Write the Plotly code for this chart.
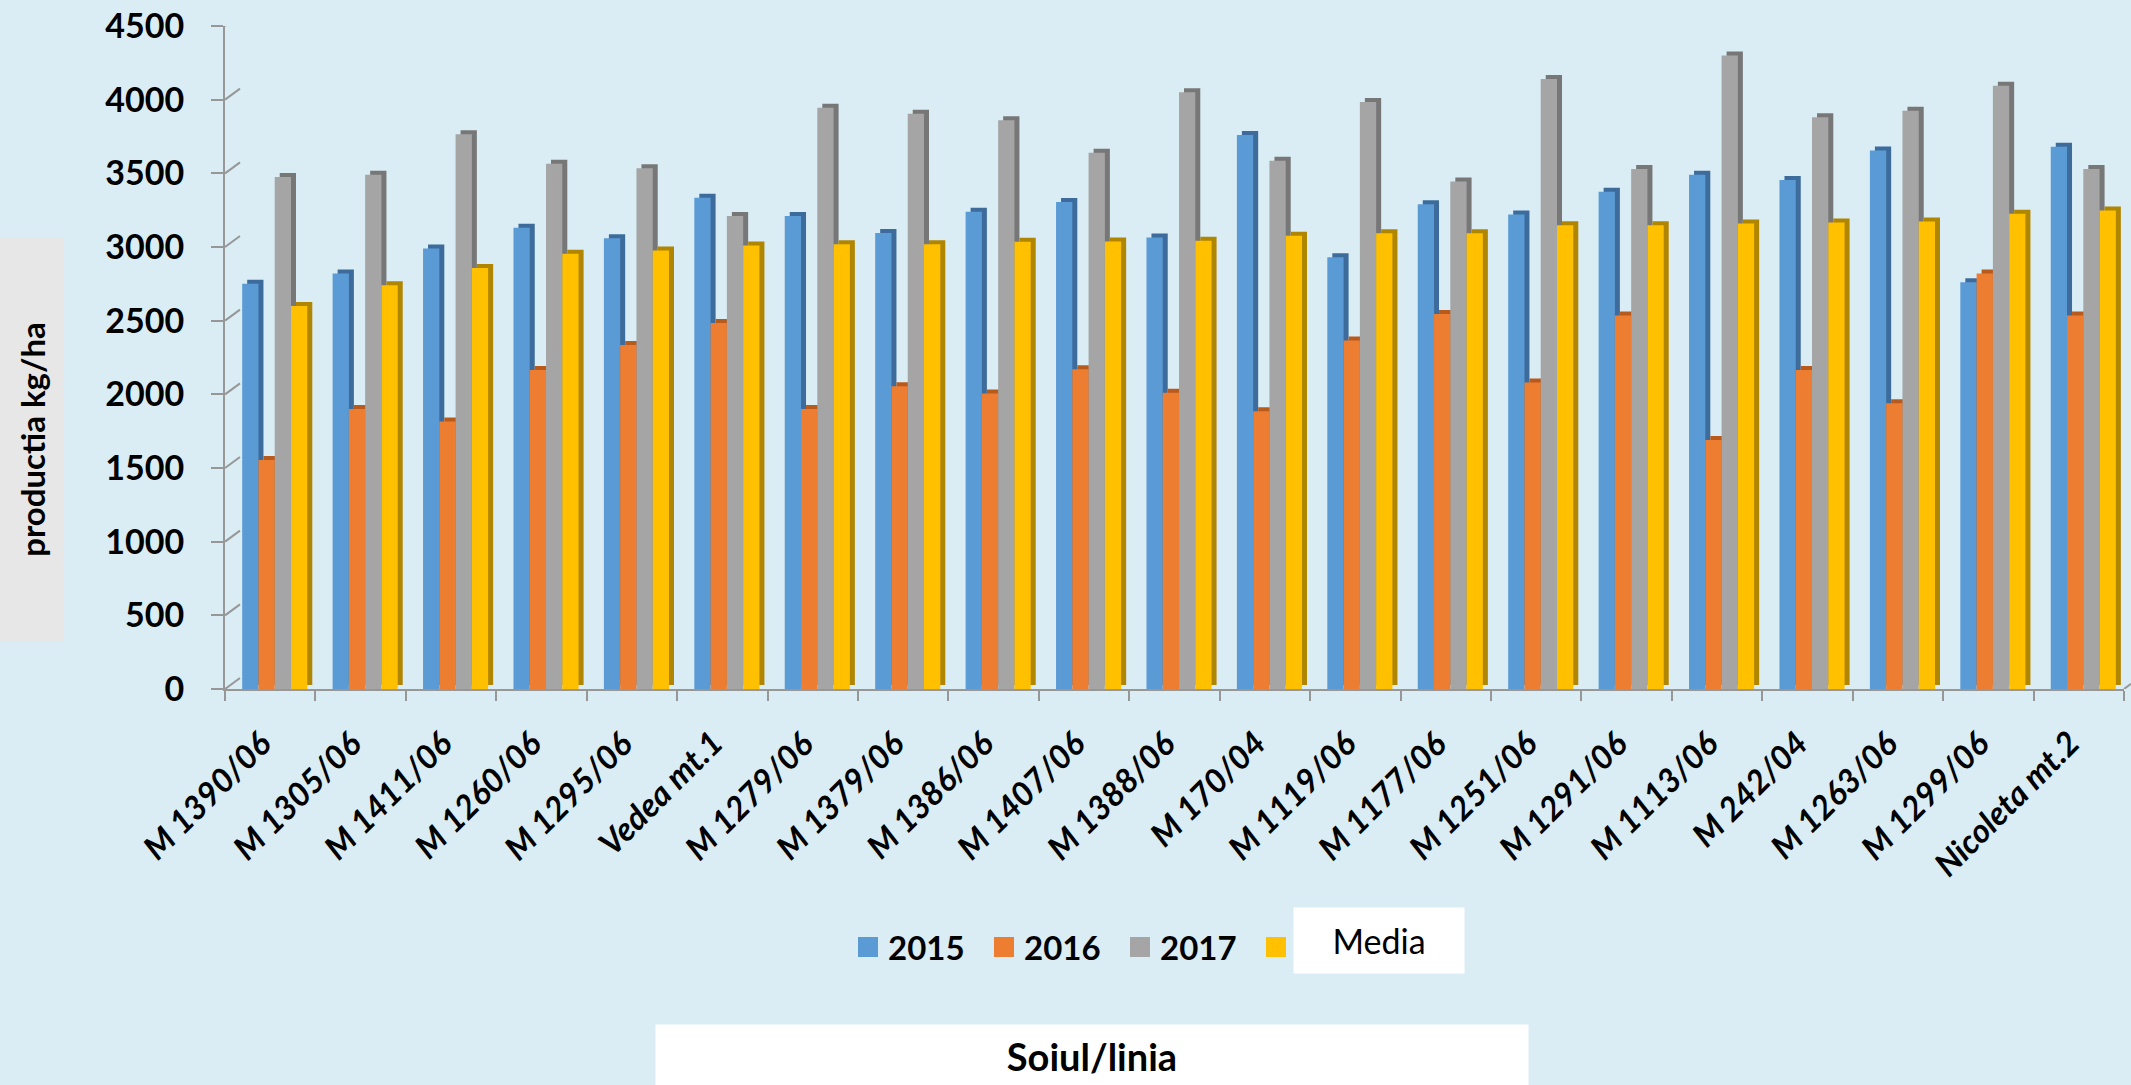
import plotly.graph_objects as go

# ---- data ----
categories = ["M 1390/06", "M 1305/06", "M 1411/06", "M 1260/06", "M 1295/06",
              "Vedea mt.1", "M 1279/06", "M 1379/06", "M 1386/06", "M 1407/06",
              "M 1388/06", "M 170/04", "M 1119/06", "M 1177/06", "M 1251/06",
              "M 1291/06", "M 1113/06", "M 242/04", "M 1263/06", "M 1299/06",
              "Nicoleta mt.2"]
v2015 = [2750, 2820, 2990, 3130, 3060, 3335, 3210, 3095, 3240, 3305, 3065,
         3760, 2930, 3290, 3220, 3375, 3490, 3455, 3655, 2760, 3680]
v2016 = [1555, 1900, 1815, 2165, 2335, 2485, 1900, 2055, 2005, 2170, 2010,
         1885, 2365, 2545, 2080, 2535, 1690, 2165, 1940, 2820, 2535]
v2017 = [3475, 3490, 3765, 3565, 3535, 3210, 3945, 3905, 3860, 3640, 4050,
         3585, 3985, 3445, 4140, 3530, 4300, 3880, 3925, 4095, 3530]
media = [2600, 2740, 2857, 2955, 2977, 3010, 3018, 3018, 3035, 3038, 3042,
         3077, 3093, 3093, 3147, 3147, 3160, 3167, 3173, 3225, 3248]
series_names = ["2015", "2016", "2017", "Media"]
y_ticks = [0, 500, 1000, 1500, 2000, 2500, 3000, 3500, 4000, 4500]

# ---- page geometry (pixels) ----
W, H = 2131, 1085
ML, MR, MT, MB = 225, 0, 15, 396
PW, PH = W - ML - MR, H - MT - MB
DX, DY = 15, 11            # depth of the side wall / back wall
FRONT_W = 1899             # width of the front floor edge
YMAX = 4500
px_per_unit = (PH - DY) / YMAX

def paper_x(px):
    return (px - ML) / PW

def paper_y(py):
    return (H - MB - py) / PH

BG = "#DAEDF4"
GRID = "#979797"
FONT = "Lato"

front_colors = ["#5B9BD5", "#ED7D31", "#A5A5A5", "#FFC000"]
side_colors = ["#3D6C9C", "#B95A1D", "#777777", "#B08500"]
values = [v2015, v2016, v2017, media]

bar_w = 0.18
first_offset = -0.31
side_shift = 5 / (FRONT_W / len(categories))   # 5 px to the right
side_lift = 4 / px_per_unit                     # 4 px upwards

fig = go.Figure()

for i, (name, vals) in enumerate(zip(series_names, values)):
    off = first_offset + i * bar_w
    # darker side / top faces
    fig.add_trace(go.Bar(
        x=categories, y=vals, base=side_lift,
        offset=off + side_shift, width=bar_w,
        marker=dict(color=side_colors[i], line=dict(width=0)),
        xaxis="x2", yaxis="y2", showlegend=False, hoverinfo="skip",
    ))
    # front faces
    fig.add_trace(go.Bar(
        x=categories, y=vals, name=name, legendgroup=name,
        offset=off, width=bar_w, showlegend=False,
        marker=dict(color=front_colors[i], line=dict(width=0)),
        xaxis="x2", yaxis="y2",
    ))

# legend keys (larger square swatches); the last key's caption sits in
# its own white text box, added as an annotation below
legend_captions = ["2015", "2016", "2017", " "]
for i, name in enumerate(series_names):
    fig.add_trace(go.Scatter(
        x=[None], y=[None], mode="markers", name=legend_captions[i],
        legendgroup=name,
        marker=dict(symbol="square", size=16, color=front_colors[i],
                    line=dict(color=front_colors[i], width=4)),
        xaxis="x2", yaxis="y2", hoverinfo="skip",
    ))

# side-wall diagonals joining front ticks to back-wall gridlines
shapes = []
for v in y_ticks:
    shapes.append(dict(type="line", xref="paper", yref="y2",
                       x0=paper_x(ML), x1=paper_x(ML + DX),
                       y0=v, y1=v + DY / px_per_unit,
                       line=dict(color=GRID, width=2)))
# right end of the floor
shapes.append(dict(type="line", xref="paper", yref="y2",
                   x0=paper_x(ML + FRONT_W), x1=1,
                   y0=0, y1=(W - ML - FRONT_W) / DX * DY / px_per_unit,
                   line=dict(color=GRID, width=2)))

annotations = [
    dict(text="productia kg/ha", textangle=-90, xref="paper", yref="paper",
         x=paper_x(31.5), y=paper_y(440), xanchor="center", yanchor="middle",
         showarrow=False, bgcolor="#E7E7E7", width=404, height=63, borderpad=0,
         font=dict(family=FONT, size=33, color="#000000", weight="bold")),
    dict(text="Soiul/linia", xref="paper", yref="paper",
         x=paper_x(1092), y=paper_y(1056), xanchor="center", yanchor="middle",
         showarrow=False, bgcolor="#FFFFFF", width=872, height=62, borderpad=0,
         font=dict(family=FONT, size=38, color="#000000", weight="bold")),
    dict(text="Media", xref="paper", yref="paper",
         x=paper_x(1379), y=paper_y(940.5), xanchor="center", yanchor="middle",
         showarrow=False, bgcolor="#FFFFFF", width=170, height=65, borderpad=0,
         font=dict(family=FONT, size=34, color="#000000")),
]

# slanted category labels under the floor, ending at each category centre
# (category axes place annotations by category index)
for idx, cat in enumerate(categories):
    annotations.append(dict(
        text=cat, xref="x2", x=idx, yref="paper", y=paper_y(721),
        xanchor="right", yanchor="top", xshift=9, textangle=-45,
        showarrow=False, borderpad=0,
        font=dict(family=FONT, size=33, color="#000000",
                  weight="bold", style="italic"),
    ))

fig.update_layout(
    width=W, height=H,
    margin=dict(l=ML, r=MR, t=MT, b=MB, pad=0),
    paper_bgcolor=BG, plot_bgcolor="rgba(0,0,0,0)",
    barmode="overlay",
    showlegend=True,
    legend=dict(orientation="h", x=paper_x(848), y=paper_y(947),
                xanchor="left", yanchor="middle",
                bgcolor="rgba(0,0,0,0)",
                entrywidthmode="pixels", entrywidth=91,
                font=dict(family=FONT, size=33, color="#000000", weight="bold")),
    # back wall (gridlines only)
    xaxis=dict(domain=[DX / PW, 1], range=[0, 1], visible=False,
               fixedrange=True),
    yaxis=dict(domain=[DY / PH, 1], range=[0, YMAX], anchor="x",
               tickvals=y_ticks, showticklabels=False, ticks="",
               showgrid=True, gridcolor=GRID, gridwidth=2,
               zeroline=False, showline=False),
    # front axes carrying the bars
    xaxis2=dict(domain=[0, FRONT_W / PW], anchor="y2", type="category",
                categoryorder="array", categoryarray=categories,
                range=[-0.5, len(categories) - 0.5],
                tickson="boundaries", ticks="outside", ticklen=10,
                tickcolor=GRID, tickwidth=2, showticklabels=False,
                showline=True, linecolor=GRID, linewidth=2,
                showgrid=False, automargin=False),
    yaxis2=dict(domain=[0, (PH - DY) / PH], anchor="x2", range=[0, YMAX],
                tickvals=y_ticks, ticks="outside", ticklen=12,
                tickcolor=GRID, tickwidth=2, showgrid=False, zeroline=False,
                showline=True, linecolor=GRID, linewidth=2,
                automargin=False, ticklabelstandoff=20,
                tickfont=dict(family=FONT, size=34, color="#000000",
                              weight="bold")),
    shapes=shapes,
    annotations=annotations,
)

fig.write_html("out.html")
